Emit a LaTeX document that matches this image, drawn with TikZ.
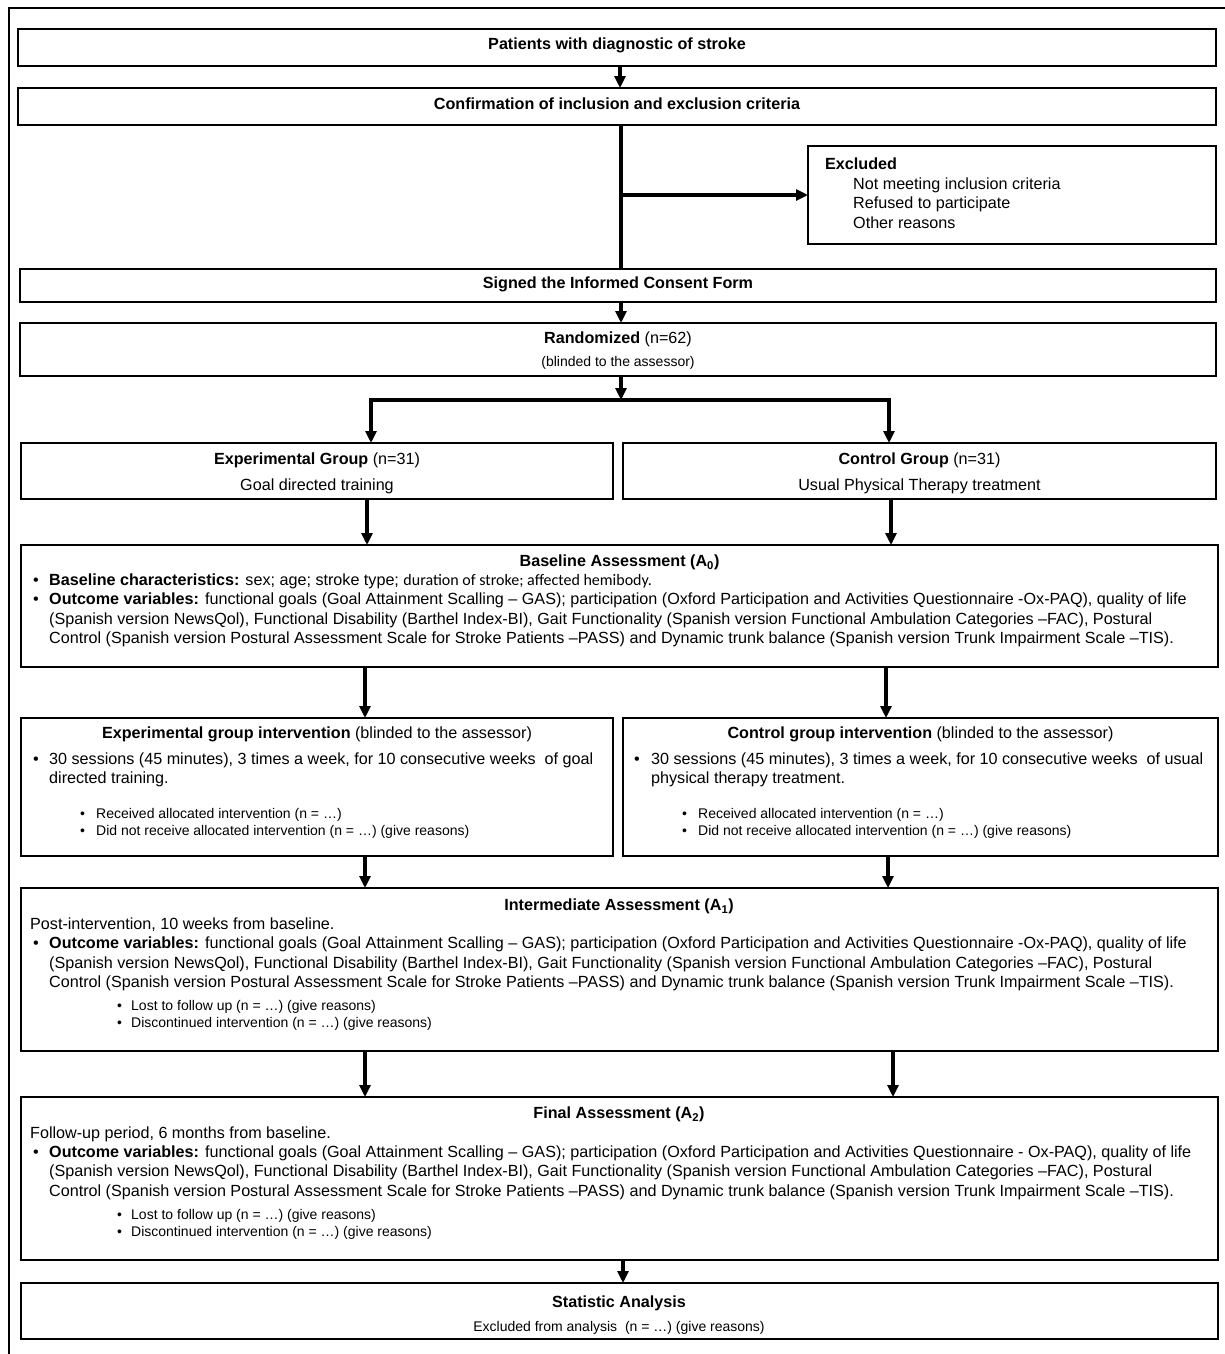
\documentclass[tikz,border=0pt]{standalone}
\usepackage{fontspec}
\setmainfont{Liberation Sans}
\newfontfamily\calibfont{Carlito}
\usetikzlibrary{arrows.meta}
\newcommand\myBig{\fontsize{16.15}{19}\selectfont}
\newcommand\mySmall{\fontsize{14}{17}\selectfont}
\begin{document}
\begin{tikzpicture}[x=1pt,y=-1pt,
  box/.style={draw, line width=1.5pt, inner sep=0pt, outer sep=0pt, anchor=north west},
  arr/.style={line width=3.2pt, -{Triangle[length=12pt,width=11pt]}},
  thick line/.style={line width=3.2pt},
  tl/.style={inner sep=0pt, anchor=base west, font=\myBig},
  tc/.style={inner sep=0pt, anchor=base, font=\myBig},
  sl/.style={inner sep=0pt, anchor=base west, font=\mySmall},
  sc/.style={inner sep=0pt, anchor=base, font=\mySmall}]
\useasboundingbox (0,0) rectangle (1225,1354);
\fill[white] (0,0) rectangle (1225,1354);
% outer frame (cropped)
\draw[line width=2.4pt] (9,1354) -- (9,8) -- (1225,8);

% boxes
\node[box, minimum width=1198, minimum height=37] (b1) at (18,29) {};
\node[box, minimum width=1198, minimum height=37] (b2) at (18,88) {};
\node[box, minimum width=408, minimum height=98] (exc) at (808,146) {};
\node[box, minimum width=1196, minimum height=33] (b3) at (20,269) {};
\node[box, minimum width=1196, minimum height=53] (b4) at (20,323) {};
\node[box, minimum width=592, minimum height=56] (g1) at (21,443) {};
\node[box, minimum width=593, minimum height=56] (g2) at (623,443) {};
\node[box, minimum width=1197, minimum height=122] (base) at (21,545) {};
\node[box, minimum width=592, minimum height=138] (i1) at (21,718) {};
\node[box, minimum width=595, minimum height=138] (i2) at (623,718) {};
\node[box, minimum width=1197, minimum height=163] (mid) at (21,888) {};
\node[box, minimum width=1197, minimum height=163] (fin) at (21,1097) {};
\node[box, minimum width=1197, minimum height=56] (stat) at (21,1283) {};

% texts
\node[tc] (t1) at (617,49.5) {\textbf{Patients with diagnostic of stroke}};
\node[tc] (t2) at (617,109.5) {\textbf{Confirmation of inclusion and exclusion criteria}};
\node[tl] (e0) at (825,169.5) {\textbf{Excluded}};
\node[tl] (e1) at (853,189.5) {Not meeting inclusion criteria};
\node[tl] (e2) at (853,208.5) {Refused to participate};
\node[tl] (e3) at (853,228.5) {Other reasons};
\node[tc] (t3) at (618,288.5) {\textbf{Signed the Informed Consent Form}};
\node[tc] (t4) at (618,343.5) {\textbf{Randomized} (n=62)};
\node[sc] (t4b) at (618,366) {(blinded to the assessor)};
\node[tc] (g1a) at (317,464.5) {\textbf{Experimental Group} (n=31)};
\node[tc] (g1b) at (317,490.5) {Goal directed training};
\node[tc] (g2a) at (919.5,464.5) {\textbf{Control Group} (n=31)};
\node[tc] (g2b) at (919.5,490.5) {Usual Physical Therapy treatment};

% baseline
\node[tc] (ba0) at (619.5,566.5) {\textbf{Baseline Assessment (A\textsubscript{0})}};
\node[tl] (bb1) at (33,585.5) {\textbullet};
\node[tl] (ba1) at (49,585.5) {\textbf{Baseline characteristics:} sex; age; stroke type; {\calibfont\fontsize{16}{19}\selectfont duration of stroke; affected hemibody.}};
\node[tl] (bb2) at (33,604.5) {\textbullet};
\node[tl] (ba2) at (49,604.5) {\textbf{Outcome variables:} functional goals (Goal Attainment Scalling – GAS); participation (Oxford Participation and Activities Questionnaire -Ox-PAQ), quality of life};
\node[tl] (ba3) at (49,624.5) {(Spanish version NewsQol), Functional Disability (Barthel Index-BI), Gait Functionality (Spanish version Functional Ambulation Categories –FAC), Postural};
\node[tl] (ba4) at (49,643.5) {Control (Spanish version Postural Assessment Scale for Stroke Patients –PASS) and Dynamic trunk balance (Spanish version Trunk Impairment Scale –TIS).};

% interventions
\node[tc] (ia0) at (317,738.5) {\textbf{Experimental group intervention} (blinded to the assessor)};
\node[tl] (ib1) at (33,764.5) {\textbullet};
\node[tl] (ia1) at (49,764.5) {30 sessions (45 minutes), 3 times a week, for 10 consecutive weeks \ of goal};
\node[tl] (ia2) at (49,783.5) {directed training.};
\node[sl] (ib3) at (80,818) {\textbullet};
\node[sl] (ia3) at (96,818) {Received allocated intervention (n = …)};
\node[sl] (ib4) at (80,835) {\textbullet};
\node[sl] (ia4) at (96,835) {Did not receive allocated intervention (n = …) (give reasons)};

\node[tc] (ja0) at (920.5,738.5) {\textbf{Control group intervention} (blinded to the assessor)};
\node[tl] (jb1) at (634,764.5) {\textbullet};
\node[tl] (ja1) at (651,764.5) {30 sessions (45 minutes), 3 times a week, for 10 consecutive weeks \ of usual};
\node[tl] (ja2) at (651,783.5) {physical therapy treatment.};
\node[sl] (jb3) at (682,818) {\textbullet};
\node[sl] (ja3) at (698,818) {Received allocated intervention (n = …)};
\node[sl] (jb4) at (682,835) {\textbullet};
\node[sl] (ja4) at (698,835) {Did not receive allocated intervention (n = …) (give reasons)};

% intermediate
\node[tc] (ma0) at (619,910.5) {\textbf{Intermediate Assessment (A\textsubscript{1})}};
\node[tl] (ma1) at (30,929.5) {Post-intervention, 10 weeks from baseline.};
\node[tl] (mb2) at (33,948.5) {\textbullet};
\node[tl] (ma2) at (49,948.5) {\textbf{Outcome variables:} functional goals (Goal Attainment Scalling – GAS); participation (Oxford Participation and Activities Questionnaire -Ox-PAQ), quality of life};
\node[tl] (ma3) at (49,968.5) {(Spanish version NewsQol), Functional Disability (Barthel Index-BI), Gait Functionality (Spanish version Functional Ambulation Categories –FAC), Postural};
\node[tl] (ma4) at (49,987.5) {Control (Spanish version Postural Assessment Scale for Stroke Patients –PASS) and Dynamic trunk balance (Spanish version Trunk Impairment Scale –TIS).};
\node[sl] (mb5) at (117,1010) {\textbullet};
\node[sl] (ma5) at (131,1010) {Lost to follow up (n = …) (give reasons)};
\node[sl] (mb6) at (117,1027) {\textbullet};
\node[sl] (ma6) at (131,1027) {Discontinued intervention (n = …) (give reasons)};

% final
\node[tc] (fa0) at (619,1118.5) {\textbf{Final Assessment (A\textsubscript{2})}};
\node[tl] (fa1) at (30,1138.5) {Follow-up period, 6 months from baseline.};
\node[tl] (fb2) at (33,1157.5) {\textbullet};
\node[tl] (fa2) at (49,1157.5) {\textbf{Outcome variables:} functional goals (Goal Attainment Scalling – GAS); participation (Oxford Participation and Activities Questionnaire - Ox-PAQ), quality of life};
\node[tl] (fa3) at (49,1176.5) {(Spanish version NewsQol), Functional Disability (Barthel Index-BI), Gait Functionality (Spanish version Functional Ambulation Categories –FAC), Postural};
\node[tl] (fa4) at (49,1196.5) {Control (Spanish version Postural Assessment Scale for Stroke Patients –PASS) and Dynamic trunk balance (Spanish version Trunk Impairment Scale –TIS).};
\node[sl] (fb5) at (117,1219) {\textbullet};
\node[sl] (fa5) at (131,1219) {Lost to follow up (n = …) (give reasons)};
\node[sl] (fb6) at (117,1236) {\textbullet};
\node[sl] (fa6) at (131,1236) {Discontinued intervention (n = …) (give reasons)};

% statistic
\node[tc] (sa0) at (619,1307.5) {\textbf{Statistic Analysis}};
\node[sc] (sa1) at (619,1331) {Excluded from analysis \ (n = …) (give reasons)};

% connector x positions
\coordinate (x620) at (620,0);
\coordinate (x621) at (621,0);
\coordinate (x623) at (623,0);
\coordinate (x371) at (371,0);
\coordinate (x889) at (889,0);
\coordinate (x367) at (367,0);
\coordinate (x891) at (891,0);
\coordinate (x365) at (365,0);
\coordinate (x886) at (886,0);
\coordinate (x888) at (888,0);
\coordinate (x893) at (893,0);
\coordinate (sp) at (621,195);
\coordinate (br) at (621,400);

% connectors
\draw[arr] (b1.south -| x620) -- (b2.north -| x620);
\draw[thick line] (b2.south -| x621) -- (b3.north -| x621);
\draw[arr] (sp) -- (exc.west |- sp);
\draw[arr] (b3.south -| x621) -- (b4.north -| x621);
\draw[arr] (b4.south -| x621) -- (br);
\draw[arr] (br) -| (g1.north -| x371);
\draw[arr] (br) -| (g2.north -| x889);
\draw[arr] (g1.south -| x367) -- (base.north -| x367);
\draw[arr] (g2.south -| x891) -- (base.north -| x891);
\draw[arr] (base.south -| x365) -- (i1.north -| x365);
\draw[arr] (base.south -| x886) -- (i2.north -| x886);
\draw[arr] (i1.south -| x365) -- (mid.north -| x365);
\draw[arr] (i2.south -| x888) -- (mid.north -| x888);
\draw[arr] (mid.south -| x365) -- (fin.north -| x365);
\draw[arr] (mid.south -| x893) -- (fin.north -| x893);
\draw[arr] (fin.south -| x623) -- (stat.north -| x623);
\end{tikzpicture}
\end{document}
